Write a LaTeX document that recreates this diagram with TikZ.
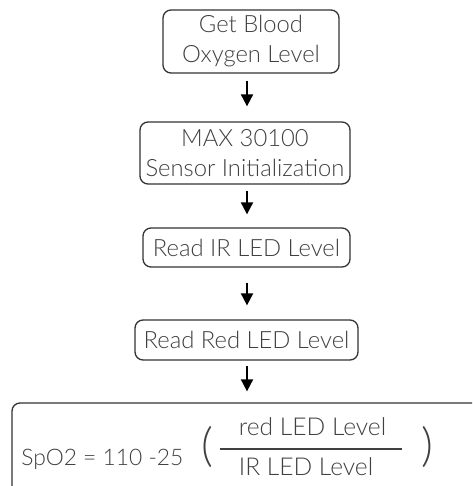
\documentclass[tikz,border=0pt]{standalone}
\usepackage{fontspec}
\setmainfont{Lato}[UprightFont=* Light]
\usetikzlibrary{arrows.meta}

\tikzset{
  stepbox/.style={draw=black!80,line width=0.65pt,rounded corners=4pt,
    align=center,inner sep=0pt,font=\fontsize{11.9}{15}\selectfont,text=black!75},
  formula/.style={font=\fontsize{12.3}{14}\selectfont,text=black!75,inner sep=0pt,anchor=base},
  paren/.style={font=\fontsize{23}{23}\selectfont,text=black!75,inner sep=0pt},
  flow/.style={line width=1pt,-{Triangle[width=6pt,length=6pt]}},
}

\begin{document}
\begin{tikzpicture}[x=0.5pt,y=-0.5pt]
  \useasboundingbox (0,0) rectangle (472,486);
  \clip (0,0) rectangle (472,486);
  % steps of the flow
  \node[stepbox,minimum width=88pt,minimum height=31.5pt] (getlevel) at (251,41.5) {Get Blood\\Oxygen Level};
  \node[stepbox,minimum width=105pt,minimum height=31pt] (sensorinit) at (245,153) {MAX 30100\\Sensor Initialization};
  \node[stepbox,minimum width=103.5pt,minimum height=19.5pt] (readir) at (246.5,247.5) {Read IR LED Level};
  \node[stepbox,minimum width=111.5pt,minimum height=20pt] (readred) at (246.5,340) {Read Red LED Level};
  \node[stepbox,minimum width=239pt,minimum height=48.5pt] (spo) at (251,451.5) {};
  % formula
  \node[formula,anchor=base west,font=\fontsize{11.4}{14}\selectfont] (lhs) at (21,465) {SpO2 = 110 -25};
  \node[paren] (lpar) at (207,447) {(};
  \node[paren] (rpar) at (427,447) {)};
  \node[formula] (num) at (312.5,435) {red LED Level};
  \node[formula] (den) at (306,475) {IR LED Level};
  \coordinate (fracl) at (220,449);
  \coordinate (fracr) at (402,449);
  \draw[black!75,line width=0.7pt] (fracl) -- (fracr);
  % arrows
  \coordinate (ax) at (247,0);
  \draw[flow,shorten <=3.5pt,shorten >=7.5pt] (getlevel.south -| ax) -- (sensorinit.north -| ax);
  \draw[flow,shorten <=3pt,shorten >=6.5pt] (sensorinit.south -| ax) -- (readir.north -| ax);
  \draw[flow,shorten <=7.5pt,shorten >=7pt] (readir.south -| ax) -- (readred.north -| ax);
  \draw[flow,shorten <=2.5pt,shorten >=5.5pt] (readred.south -| ax) -- (spo.north -| ax);
\end{tikzpicture}
\end{document}
